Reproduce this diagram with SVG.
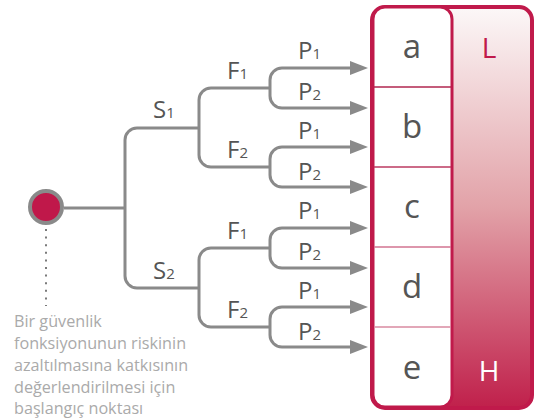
<svg xmlns="http://www.w3.org/2000/svg" width="542" height="419" viewBox="0 0 542 419">
<style>
.ln{fill:none;stroke:#8a8a8a;stroke-width:3}
.arr{fill:none;stroke:#8a8a8a;stroke-width:3;marker-end:url(#ah)}
.lbl{font-family:"Open Sans","DejaVu Sans",sans-serif;font-size:24px;fill:#555}
.sub{font-size:15px}
.cell{font-family:"Open Sans","DejaVu Sans",sans-serif;font-size:33px;fill:#555;text-anchor:middle}
.cap{font-family:"Open Sans","DejaVu Sans",sans-serif;font-size:16.2px;fill:#aaaaaa}
.scale{font-family:"Open Sans","DejaVu Sans",sans-serif;font-size:28px;text-anchor:middle}
</style>
<defs>
<marker id="ah" markerUnits="userSpaceOnUse" markerWidth="19" markerHeight="15" refX="0" refY="7" orient="auto" viewBox="0 0 19 14">
<path d="M0,0 L18,7 L0,14 Z" fill="#8a8a8a"/>
</marker>
<linearGradient id="grad" x1="0" y1="0" x2="0" y2="1">
<stop offset="0" stop-color="#fcf8f8"/>
<stop offset="0.5" stop-color="#e2a2a8"/>
<stop offset="1" stop-color="#c0204b"/>
</linearGradient>
</defs>
<g id="connectors">
<path class="ln" d="M64,208 H125"/>
<path class="ln" d="M199,128 H137 A12,12 0 0 0 125,140 V276 A12,12 0 0 0 137,288 H199"/>
<path class="ln" d="M270,88 H211 A12,12 0 0 0 199,100 V155 A12,12 0 0 0 211,167 H270"/>
<path class="ln" d="M270,248 H211 A12,12 0 0 0 199,260 V315 A12,12 0 0 0 211,327 H270"/>
<path class="arr" d="M270,88 V80 A12,12 0 0 1 282,68 H350"/>
<path class="arr" d="M270,88 V96 A12,12 0 0 0 282,108 H350"/>
<path class="arr" d="M270,167 V159 A12,12 0 0 1 282,147 H350"/>
<path class="arr" d="M270,167 V175 A12,12 0 0 0 282,187 H350"/>
<path class="arr" d="M270,248 V240 A12,12 0 0 1 282,228 H350"/>
<path class="arr" d="M270,248 V256 A12,12 0 0 0 282,268 H350"/>
<path class="arr" d="M270,327 V319 A12,12 0 0 1 282,307 H350"/>
<path class="arr" d="M270,327 V335 A12,12 0 0 0 282,347 H350"/>
<line x1="46" y1="229" x2="46" y2="306" stroke="#7a7a7a" stroke-width="2" stroke-dasharray="2 5.6"/>
</g>
<g id="start">
<circle cx="46" cy="207" r="16" fill="#c0184a" stroke="#8a8a8a" stroke-width="4"/>
<text class="cap" x="14" y="327">Bir güvenlik</text>
<text class="cap" x="14" y="349">fonksiyonunun riskinin</text>
<text class="cap" x="14" y="371">azaltılmasına katkısının</text>
<text class="cap" x="14" y="393">değerlendirilmesi için</text>
<text class="cap" x="14" y="414">başlangıç noktası</text>
</g>
<g id="labels">
<text class="lbl" x="153" y="118">S<tspan class="sub">1</tspan></text>
<text class="lbl" x="153" y="279">S<tspan class="sub">2</tspan></text>
<text class="lbl" x="227" y="79">F<tspan class="sub">1</tspan></text>
<text class="lbl" x="227" y="158">F<tspan class="sub">2</tspan></text>
<text class="lbl" x="227" y="239">F<tspan class="sub">1</tspan></text>
<text class="lbl" x="227" y="318">F<tspan class="sub">2</tspan></text>
<text class="lbl" x="298" y="59">P<tspan class="sub">1</tspan></text>
<text class="lbl" x="298" y="100">P<tspan class="sub">2</tspan></text>
<text class="lbl" x="298" y="139">P<tspan class="sub">1</tspan></text>
<text class="lbl" x="298" y="180">P<tspan class="sub">2</tspan></text>
<text class="lbl" x="298" y="219">P<tspan class="sub">1</tspan></text>
<text class="lbl" x="298" y="260">P<tspan class="sub">2</tspan></text>
<text class="lbl" x="298" y="299">P<tspan class="sub">1</tspan></text>
<text class="lbl" x="298" y="340">P<tspan class="sub">2</tspan></text>
</g>
<g id="scale">
<rect x="372" y="7" width="160" height="401" rx="13" fill="url(#grad)" stroke="#c01a4b" stroke-width="4"/>
<text class="scale" x="489" y="58" fill="#c01a4b">L</text>
<text class="scale" x="489" y="381" fill="#ffffff">H</text>
</g>
<g id="outcomes">
<rect x="373" y="7" width="79" height="400" rx="12" fill="#ffffff" stroke="#c01a4b" stroke-width="3"/>
<line x1="374" y1="87" x2="451" y2="87" stroke="#b0264f" stroke-width="1.3"/>
<line x1="374" y1="167" x2="451" y2="167" stroke="#bb3a60" stroke-width="1.3"/>
<line x1="374" y1="247" x2="451" y2="247" stroke="#d27390" stroke-width="1.3"/>
<line x1="374" y1="327" x2="451" y2="327" stroke="#d98aa0" stroke-width="1.3"/>
<text id="cell-a" class="cell" x="412" y="58">a</text>
<text id="cell-b" class="cell" x="412" y="138">b</text>
<text id="cell-c" class="cell" x="412" y="218">c</text>
<text id="cell-d" class="cell" x="412" y="298">d</text>
<text id="cell-e" class="cell" x="412" y="379">e</text>
</g>
</svg>
